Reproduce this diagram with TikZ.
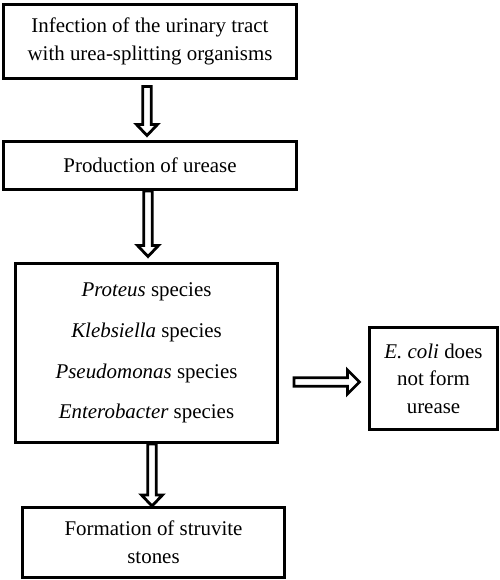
\documentclass[tikz,border=0pt]{standalone}
\usepackage{fontspec}
\setmainfont{Liberation Serif}
\usetikzlibrary{positioning,calc}

\begin{document}
\begin{tikzpicture}
    [ x = 1bp, y = 1bp
    , box/.style =
      { draw, line width = 3bp, align = center, inner sep = 0pt
      , font = \fontsize{21}{28}\selectfont }
    , hollow/.style =
      { draw, line width = 2.8bp, line join = miter, fill = white }
    , downarrow/.style =
      { hollow, to path =
        { let \p1 = (\tikztostart), \p2 = (\tikztotarget) in
          (\x2-4.3bp,\y1) -- (\x2+4.3bp,\y1) -- (\x2+4.3bp,\y2+11bp)
          -- (\x2+10.5bp,\y2+11bp) -- (\x2,\y2) -- (\x2-10.5bp,\y2+11bp)
          -- (\x2-4.3bp,\y2+11bp) -- cycle } }
    , rightarrow/.style =
      { hollow, to path =
        { let \p1 = (\tikztostart), \p2 = (\tikztotarget) in
          (\x1,\y2+4.3bp) -- (\x2-12bp,\y2+4.3bp) -- (\x2-12bp,\y2+12bp)
          -- (\x2,\y2) -- (\x2-12bp,\y2-12bp) -- (\x2-12bp,\y2-4.3bp)
          -- (\x1,\y2-4.3bp) -- cycle } }
    ]
    \useasboundingbox (0,0) rectangle (500,580);

    \node [box, minimum width = 293bp, minimum height = 74bp] (infect) at (150,538.5)
      {Infection of the urinary tract\\with urea-splitting organisms};
    \node [box, minimum width = 293bp, minimum height = 48bp] (urease) [below=60bp of infect]
      {Production of urease};
    \node [box, minimum width = 262bp, minimum height = 179bp
          , font = \fontsize{21}{41}\selectfont] (species) [below=71bp of urease, xshift=-3.5bp]
      {\textit{Proteus} species\\\textit{Klebsiella} species\\
       \textit{Pseudomonas} species\\\textit{Enterobacter} species};
    \node [box, minimum width = 262bp, minimum height = 70bp] (struvite) [below=62bp of species, xshift=7bp]
      {Formation of struvite\\stones};
    \node [box, minimum width = 128bp, minimum height = 102bp
          , font = \fontsize{21}{27.5}\selectfont] (ecoli) [right=89bp of species, yshift=-25.5bp]
      {\textit{E. coli} does\\not form\\urease};

    \draw [downarrow] ($(infect.south)+(0,-6.5)$) to ($(urease.north)+(-3,4.5)$);
    \draw [downarrow] (urease.south) to ($(species.north)+(1.5,5.5)$);
    \draw [downarrow] (species.south) to ($(struvite.north)+(-1.5,0)$);
    \draw [rightarrow] ($(species.east)+(15,0)$) to ($(ecoli.west)+(-8.5,-3.5)$);
\end{tikzpicture}
\end{document}
